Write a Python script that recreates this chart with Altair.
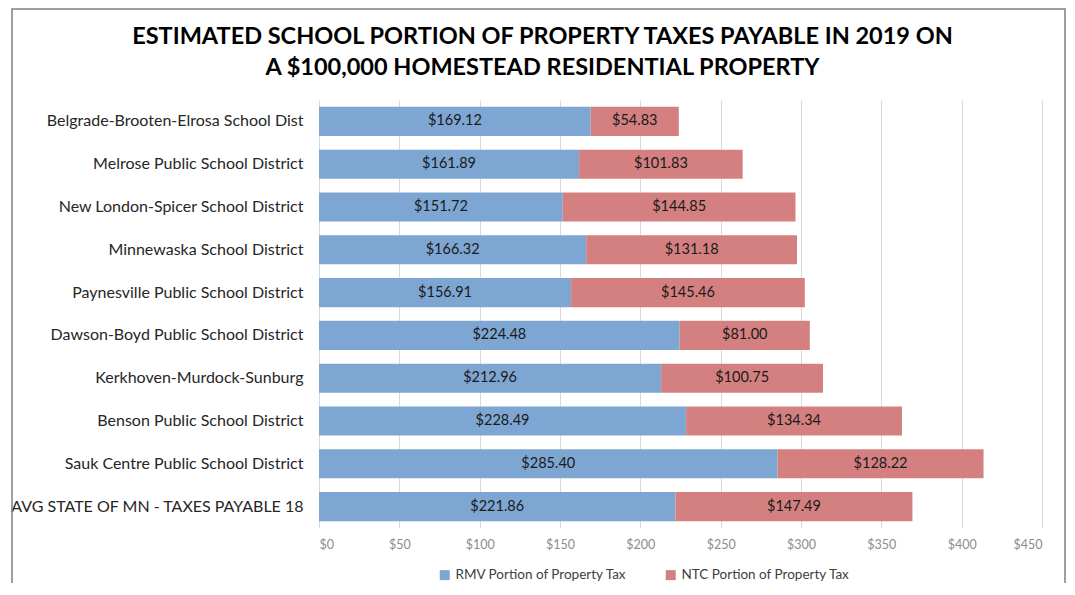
import altair as alt
import pandas as pd

districts = [
    "Belgrade-Brooten-Elrosa School Dist",
    "Melrose Public School District",
    "New London-Spicer School District",
    "Minnewaska School District",
    "Paynesville Public School District",
    "Dawson-Boyd Public School District",
    "Kerkhoven-Murdock-Sunburg",
    "Benson Public School District",
    "Sauk Centre Public School District",
    "AVG STATE OF MN - TAXES PAYABLE 18",
]
rmv = [169.12, 161.89, 151.72, 166.32, 156.91, 224.48, 212.96, 228.49, 285.40, 221.86]
ntc = [54.83, 101.83, 144.85, 131.18, 145.46, 81.00, 100.75, 134.34, 128.22, 147.49]
series = ["RMV Portion of Property Tax", "NTC Portion of Property Tax"]
colors = ["#7EA6D3", "#D58080"]
x_ticks = [0, 50, 100, 150, 200, 250, 300, 350, 400, 450]

rows = []
for d, a, b in zip(districts, rmv, ntc):
    rows.append({"district": d, "series": series[0], "value": a, "ord": 0})
    rows.append({"district": d, "series": series[1], "value": b, "ord": 1})
df = pd.DataFrame(rows)

FONT = "Lato"

base = alt.Chart(df).transform_stack(
    stack="value", groupby=["district"], as_=["start", "end"],
    sort=[alt.SortField("ord", order="ascending")],
).transform_calculate(mid="(datum.start + datum.end) / 2")

y_enc = alt.Y("district:N", sort=districts, title=None,
              scale=alt.Scale(paddingInner=0.32, paddingOuter=0.16),
              axis=alt.Axis(domain=False, ticks=False, labelFontSize=16,
                            labelFont=FONT, labelColor="#262626",
                            labelPadding=16, labelLimit=400))

bars = base.mark_bar().encode(
    y=y_enc,
    x=alt.X("start:Q", title=None,
            scale=alt.Scale(domain=[0, 450], nice=False),
            axis=alt.Axis(values=x_ticks, format="$,d", domain=False, ticks=False,
                          grid=True, gridColor="#d9d9d9", labelColor="#8c8c8c",
                          labelFontSize=12.5, labelFont=FONT, labelPadding=10)),
    x2="end:Q",
    color=alt.Color("series:N", sort=series,
                    scale=alt.Scale(domain=series, range=colors),
                    legend=alt.Legend(title=None, orient="none", direction="horizontal",
                                      legendX=119, legendY=468,
                                      symbolType="square", symbolSize=100,
                                      symbolStrokeWidth=0, labelFontSize=13.5,
                                      labelFont=FONT, labelColor="#404040",
                                      labelLimit=300,
                                      columnPadding=36, labelOffset=4)),
)

labels = base.mark_text(fontSize=14.5, font=FONT, color="#1a1a1a").encode(
    y=alt.Y("district:N", sort=districts),
    x=alt.X("mid:Q"),
    text=alt.Text("value:Q", format="$,.2f"),
)

frame = alt.Chart(pd.DataFrame({"a": [0]})).mark_rect(
    fillOpacity=0, stroke="#7f7f7f", strokeWidth=1.5
).encode(
    x=alt.value(-307), x2=alt.value(746), y=alt.value(-91), y2=alt.value(520)
)

chart = alt.layer(frame, bars, labels).properties(
    width=723, height=428,
    autosize=alt.AutoSizeParams(type="none"),
    padding={"left": 311, "top": 92, "right": 25, "bottom": 55},
    title=alt.TitleParams(
        ["ESTIMATED SCHOOL PORTION OF PROPERTY TAXES PAYABLE IN 2019 ON",
         "A $100,000 HOMESTEAD RESIDENTIAL PROPERTY"],
        fontSize=23.5, font=FONT, fontWeight="bold", color="#000000",
        anchor="middle", frame="group", dx=-138, offset=-71, lineHeight=31,
    ),
).configure(background="white").configure_view(stroke=None)

chart.save("out.html", embed_options={"renderer": "svg", "actions": False})
